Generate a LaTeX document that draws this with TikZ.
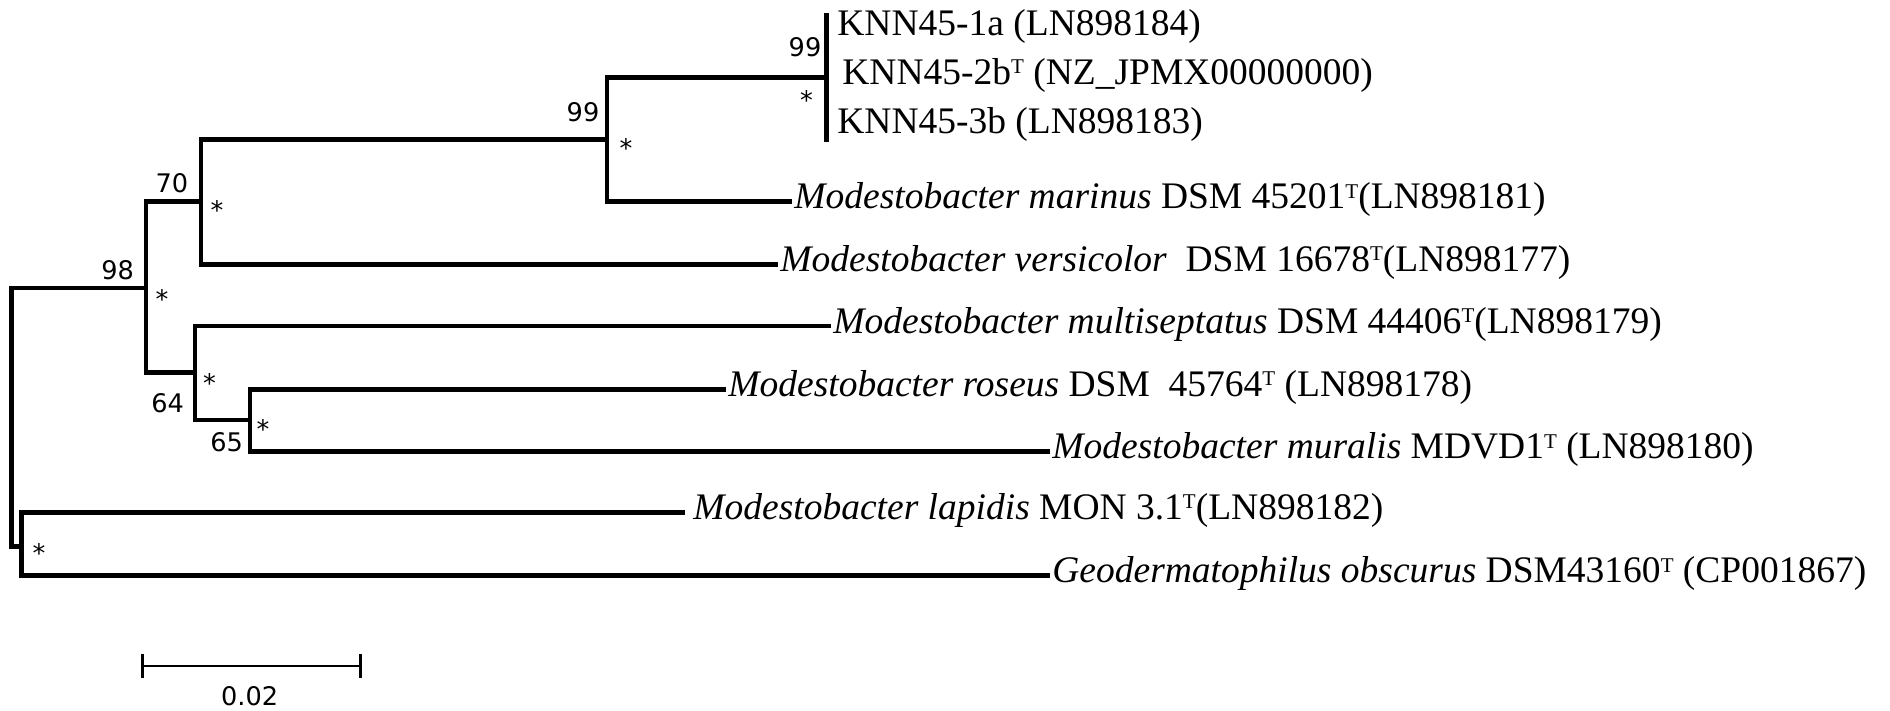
\documentclass[tikz,border=0pt]{standalone}
\usepackage{fontspec}
\setmainfont{Liberation Serif}
\newfontfamily\bootfont{DejaVu Sans}
\newcommand\typeT{\raisebox{5.3pt}{\fontsize{10.5}{11}\selectfont T}}

\tikzset{
  branch/.style = {line width = 2.4pt},
  taxon/.style = {anchor = west, inner xsep = 1pt, inner ysep = 0pt,
                  text height = 12pt, text depth = 4.8pt,
                  font = \fontsize{18.75}{22}\selectfont},
  boot/.style = {inner sep = 0pt, font = \bootfont\fontsize{12.8}{14}\selectfont}
}

\begin{document}
\begin{tikzpicture}[x = .5pt, y = -.5pt]
  \useasboundingbox (0,0) rectangle (1890,711);
  % inner nodes of the tree
  \coordinate (root) at (11.5,546.7);
  \coordinate (n98)  at (146,288);
  \coordinate (n70)  at (201,201.7);
  \coordinate (n99)  at (607,139.3);
  \coordinate (nknn) at (826.5,77.3);
  \coordinate (ktop) at (826.5,13.3);
  \coordinate (kbot) at (826.5,141.7);
  \coordinate (n64)  at (195,372.7);
  \coordinate (n65)  at (250,420);
  \coordinate (nout) at (21.8,546.7);

  % taxa
  \node [taxon] (knn1) at (835,28) {KNN45-1a (LN898184)};
  \node [taxon] (knn2) at (840,77.3) {KNN45-2b\typeT{} (NZ\_JPMX00000000)};
  \node [taxon] (knn3) at (835,126.5) {KNN45-3b (LN898183)};
  \node [taxon] (marinus) at (792,201.7)
    {\textit{Modestobacter marinus} DSM 45201\typeT(LN898181)};
  \node [taxon] (versicolor) at (778,264.3)
    {\textit{Modestobacter versicolor}\ \ DSM 16678\typeT(LN898177)};
  \node [taxon] (multisept) at (831,326)
    {\textit{Modestobacter multiseptatus} DSM 44406\typeT(LN898179)};
  \node [taxon] (roseus) at (726,389.3)
    {\textit{Modestobacter roseus} DSM\ \ 45764\typeT{} (LN898178)};
  \node [taxon] (muralis) at (1050,451.7)
    {\textit{Modestobacter muralis} MDVD1\typeT{} (LN898180)};
  \node [taxon, inner xsep = 4pt] (lapidis) at (685,512.3)
    {\textit{Modestobacter lapidis} MON 3.1\typeT(LN898182)};
  \node [taxon] (obscurus) at (1050,575.7)
    {\textit{Geodermatophilus obscurus} DSM43160\typeT{} (CP001867)};

  % branches
  \draw [branch] (n98) -| (root) -- (nout);
  \draw [branch] (n70) -| (n98) |- (n64);
  \draw [branch] (n99) -| (n70) |- (versicolor.west);
  \draw [branch] (nknn) -| (n99) |- (marinus.west);
  \draw [branch] (ktop) -- (kbot);
  \draw [branch] (multisept.west) -| (n64) |- (n65);
  \draw [branch] (roseus.west) -| (n65) |- (muralis.west);
  \draw [branch] (lapidis.west) -| (nout) |- (obscurus.west);

  % bootstrap values and stars
  \foreach \nm/\val/\xx/\yy in {99a/99/583/111.7, 99b/99/805/46.7,
      70/70/172/183.3, 98/98/117.7/270, 64/64/167.6/403.3, 65/65/226.7/441.7}
    \node [boot] (b\nm) at (\xx,\yy) {\val};
  \foreach \nm/\xx/\yy in {99a/626/148.4, 99b/806.5/100.4, 70/217/210.4,
      98/162/298.7, 64/209.5/382.7, 65/263/428.7, out/39/552.7}
    \node [boot] (s\nm) at (\xx,\yy) {*};

  % scale bar
  \coordinate (sbl) at (142.3,666);
  \coordinate (sbr) at (360.5,666);
  \draw [line width = 1pt] (sbl) -- (sbr);
  \draw [line width = 1.4pt] ([yshift = 6pt] sbl) -- ([yshift = -6pt] sbl);
  \draw [line width = 1.4pt] ([yshift = 6pt] sbr) -- ([yshift = -6pt] sbr);
  \node [boot] (sblab) at (249.7,696) {0.02};
\end{tikzpicture}
\end{document}
